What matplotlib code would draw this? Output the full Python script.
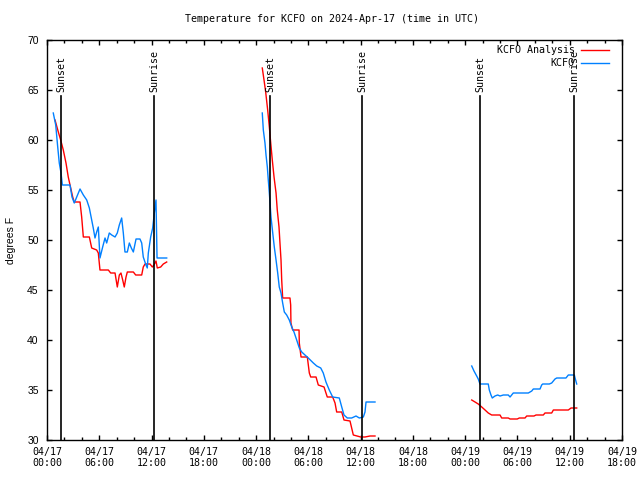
import numpy as np
import pandas as pd
import matplotlib
matplotlib.use("Agg")
import matplotlib.pyplot as plt
import matplotlib.dates as mdates

# hours after 2024-04-17 00:00 UTC, temperatures in degrees F
analysis_hours_1 = [0.92, 1.30, 1.57, 1.87, 2.18, 2.44, 2.72, 2.95, 3.13, 3.79, 3.98, 4.17, 4.86, 5.13,
                    5.70, 5.89, 6.08, 7.04, 7.31, 7.81, 8.07, 8.30, 8.49, 8.69, 8.87, 9.07, 9.22, 9.91,
                    10.18, 10.87, 11.05, 11.25, 11.82, 12.09, 12.28, 12.51, 12.66, 13.05, 13.35, 13.74]
analysis_temps_1 = [62.0, 60.8, 60.0, 59.0, 57.7, 56.3, 55.2, 54.3, 53.8, 53.8, 52.3, 50.3, 50.3, 49.2,
                    49.0, 48.7, 47.0, 47.0, 46.7, 46.7, 45.3, 46.5, 46.7, 46.0, 45.3, 46.3, 46.8, 46.8,
                    46.5, 46.5, 47.3, 47.6, 47.6, 47.3, 47.5, 47.9, 47.2, 47.3, 47.6, 47.8]
obs_hours_1 = [0.72, 1.00, 1.23, 1.41, 1.61, 1.76, 2.64, 2.87, 3.13, 3.41, 3.79, 4.17, 4.56, 4.86,
               5.13, 5.31, 5.51, 5.70, 5.89, 6.08, 6.39, 6.66, 6.85, 7.15, 7.43, 7.81, 8.07, 8.30,
               8.57, 8.76, 8.95, 9.22, 9.45, 9.68, 9.91, 10.22, 10.67, 10.87, 11.05, 11.36, 11.51,
               11.63, 11.90, 12.13, 12.32, 12.51, 12.63, 13.74]
obs_temps_1 = [62.7, 61.5, 59.3, 57.7, 56.7, 55.5, 55.5, 54.3, 53.7, 54.3, 55.1, 54.5, 54.0, 53.2,
               52.0, 51.2, 50.2, 50.8, 51.3, 48.2, 49.3, 50.2, 49.7, 50.7, 50.5, 50.3, 50.7, 51.5,
               52.2, 50.7, 48.8, 48.8, 49.7, 49.2, 48.8, 50.1, 50.1, 49.7, 48.3, 47.5, 47.2,
               48.7, 50.3, 51.2, 52.7, 54.0, 48.2, 48.2]

analysis_hours_2 = [24.71, 24.91, 25.10, 25.33, 25.52, 25.68, 25.86, 26.06, 26.29, 26.43, 26.63, 26.74,
                    26.86, 26.94, 27.05, 27.89, 27.97, 28.00, 28.20, 28.93, 28.96, 29.16, 29.88, 30.11,
                    30.27, 30.88, 31.14, 31.80, 32.02, 32.17, 32.79, 33.06, 33.25, 33.83, 34.09, 34.78,
                    35.16, 36.01, 36.50, 37.08, 37.65]
analysis_temps_2 = [67.2, 66.0, 64.8, 63.0, 61.3, 59.7, 58.0, 56.3, 54.7, 53.0, 51.3, 49.7,
                    48.0, 46.0, 44.2, 44.2, 43.5, 41.7, 41.0, 41.0, 39.7, 38.3, 38.3, 36.7,
                    36.3, 36.3, 35.5, 35.3, 34.7, 34.3, 34.3, 33.7, 32.8, 32.8, 32.0, 31.9,
                    30.5, 30.3, 30.3, 30.4, 30.4]
obs_hours_2 = [24.71, 24.83, 25.02, 25.14, 25.29, 25.40, 25.52, 25.60, 25.71, 25.91, 26.09, 26.29,
               26.48, 26.66, 26.86, 27.05, 27.24, 27.51, 27.81, 28.09, 28.35, 28.66, 28.96, 29.24,
               29.61, 29.99, 30.57, 30.96, 31.42, 31.71, 32.02, 32.40, 32.79, 33.55, 33.83, 34.09,
               34.47, 34.97, 35.47, 35.85, 36.31, 36.50, 36.62, 37.65]
obs_temps_2 = [62.7, 61.0, 59.7, 58.5, 57.3, 56.0, 54.7, 53.7, 52.3, 50.7, 49.3, 48.0,
               46.7, 45.3, 44.7, 43.7, 42.8, 42.5, 42.0, 41.3, 40.8, 40.0, 39.2, 38.8,
               38.5, 38.2, 37.7, 37.4, 37.2, 36.7, 35.8, 35.0, 34.3, 34.2, 33.3, 32.5,
               32.2, 32.2, 32.4, 32.2, 32.3, 32.8, 33.8, 33.8]

analysis_hours_3 = [48.75, 49.13, 49.50, 49.90, 50.28, 50.65, 51.04, 52.00, 52.19, 52.95, 53.15, 53.98,
                    54.21, 54.87, 55.06, 55.90, 56.13, 56.97, 57.16, 57.93, 58.12, 59.84, 60.15, 60.80]
analysis_temps_3 = [34.0, 33.8, 33.6, 33.3, 33.0, 32.7, 32.5, 32.5, 32.2, 32.2, 32.1, 32.1,
                    32.2, 32.2, 32.4, 32.4, 32.5, 32.5, 32.7, 32.7, 33.0, 33.0, 33.2, 33.2]
obs_hours_3 = [48.75, 49.01, 49.32, 49.50, 49.70, 50.65, 50.77, 50.96, 51.11, 51.42, 51.73, 52.00,
               52.38, 52.95, 53.15, 53.52, 55.25, 55.64, 55.82, 56.59, 56.78, 56.90, 57.66, 57.93,
               58.31, 58.51, 59.57, 59.84, 60.53, 60.61, 60.80]
obs_temps_3 = [37.4, 36.9, 36.4, 36.1, 35.6, 35.6, 35.0, 34.5, 34.2, 34.4, 34.5, 34.4,
               34.5, 34.5, 34.3, 34.7, 34.7, 34.9, 35.1, 35.1, 35.5, 35.6, 35.6, 35.7,
               36.1, 36.2, 36.2, 36.5, 36.5, 36.2, 35.6]

sun_hours = [1.60, 12.28, 25.60, 36.16, 49.70, 60.50]
sun_labels = ["Sunset", "Sunrise", "Sunset", "Sunrise", "Sunset", "Sunrise"]

start = pd.Timestamp("2024-04-17 00:00")


def to_time(hours):
    return start + pd.to_timedelta(np.array(hours), unit="h")


mono = "DejaVu Sans Mono"
sans = "Liberation Sans"

fig = plt.figure(figsize=(6.4, 4.8), dpi=100)
ax = fig.add_axes([47 / 640, 40 / 480, 575 / 640, 400 / 480])

red = "#ff0000"
blue = "#0080ff"
for h, t in [(analysis_hours_1, analysis_temps_1), (analysis_hours_2, analysis_temps_2),
             (analysis_hours_3, analysis_temps_3)]:
    ax.plot(to_time(h), t, color=red, lw=1.0)
for h, t in [(obs_hours_1, obs_temps_1), (obs_hours_2, obs_temps_2), (obs_hours_3, obs_temps_3)]:
    ax.plot(to_time(h), t, color=blue, lw=1.0)

# sunrise / sunset markers
for h, lab in zip(sun_hours, sun_labels):
    tm = to_time([h])[0]
    ax.plot([tm, tm], [30, 64.4], color="black", lw=1.2)
    ax.text(tm, 64.8, lab, rotation=90, ha="center", va="bottom",
            family=mono, fontsize=7.2)

ax.set_xlim(start, start + pd.Timedelta(hours=66))
ax.set_ylim(30, 70)
ax.xaxis.set_major_locator(mdates.HourLocator(byhour=[0, 6, 12, 18]))
ax.xaxis.set_minor_locator(mdates.HourLocator(byhour=range(0, 24, 2)))
ax.xaxis.set_major_formatter(mdates.DateFormatter("%m/%d\n%H:%M"))
ax.set_yticks(np.arange(30, 71, 5))

ax.tick_params(which="both", direction="in", top=True, right=True, width=1)
ax.tick_params(which="major", length=3.6)
ax.tick_params(which="minor", length=2.2)
ax.tick_params(axis="x", pad=5)
ax.tick_params(axis="y", pad=6)
for lbl in ax.get_xticklabels():
    lbl.set_family(mono)
    lbl.set_fontsize(7.2)
    lbl.set_linespacing(1.15)
for lbl in ax.get_yticklabels():
    lbl.set_family(sans)
    lbl.set_fontsize(7.5)
for sp in ax.spines.values():
    sp.set_linewidth(1.0)

ax.set_ylabel("degrees F", family=sans, fontsize=7.5, labelpad=8)

fig.text(332 / 640, 1 - 19 / 480, "Temperature for KCFO on 2024-Apr-17 (time in UTC)",
         ha="center", va="center", family=mono, fontsize=7.2)

# legend drawn by hand, text right-aligned like gnuplot
for yy, lab, col in [(0.975, "KCFO Analysis", red), (0.9425, "KCFO", blue)]:
    ax.text(0.918, yy, lab, transform=ax.transAxes, ha="right", va="center",
            family=mono, fontsize=7.2)
    ax.plot([0.929, 0.977], [yy, yy], transform=ax.transAxes, color=col, lw=1.0)

fig.savefig("out.png", dpi=100)
